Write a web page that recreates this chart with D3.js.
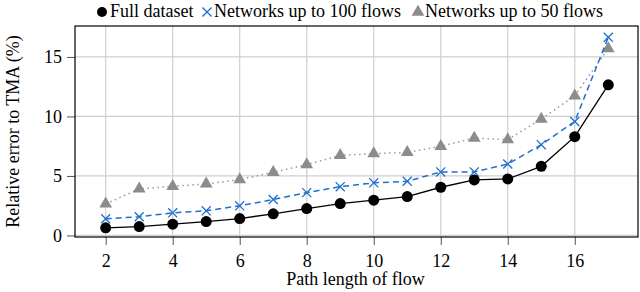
<!DOCTYPE html>
<html>
<head>
<meta charset="utf-8">
<script src="https://cdn.jsdelivr.net/npm/d3@7"></script>
</head>
<body style="margin:0;background:#fff">
<div id="chart"></div>
<script>
var pathLength = [2, 3, 4, 5, 6, 7, 8, 9, 10, 11, 12, 13, 14, 15, 16, 17];
var fullDataset = [0.64, 0.75, 0.95, 1.17, 1.42, 1.82, 2.26, 2.68, 2.96, 3.27, 4.05, 4.67, 4.75, 5.81, 8.3, 12.66];
var upTo100 = [1.4, 1.57, 1.9, 2.07, 2.49, 3.02, 3.6, 4.1, 4.42, 4.55, 5.34, 5.34, 6.0, 7.63, 9.58, 16.65];
var upTo50 = [2.65, 3.91, 4.13, 4.33, 4.69, 5.31, 5.95, 6.73, 6.87, 6.98, 7.49, 8.19, 8.05, 9.78, 11.74, 15.7];
var xTicks = [2, 4, 6, 8, 10, 12, 14, 16];
var yTicks = [0, 5, 10, 15];
var seriesNames = ["Full dataset", "Networks up to 100 flows", "Networks up to 50 flows"];

var FONT = "serif";
var width = 640, height = 292;
var margin = {top: 26, right: 2, bottom: 55, left: 75};
var w = width - margin.left - margin.right,
    h = height - margin.top - margin.bottom;

var svg = d3.select("#chart").append("svg")
  .attr("width", width)
  .attr("height", height);

var g = svg.append("g").attr("transform", "translate(" + margin.left + "," + margin.top + ")");

var x = d3.scaleLinear().domain([1.084, 17.887]).range([0, w]);
var y = d3.scaleLinear().domain([-0.13, 17.6]).range([h, 0]);

// grid
g.append("g").selectAll("line").data(xTicks).enter().append("line")
  .attr("x1", function(d){ return x(d); }).attr("x2", function(d){ return x(d); })
  .attr("y1", 0).attr("y2", h)
  .style("stroke", "#cfcfcf").style("stroke-width", 1.2);
g.append("g").selectAll("line").data(yTicks).enter().append("line")
  .attr("y1", function(d){ return y(d); }).attr("y2", function(d){ return y(d); })
  .attr("x1", 0).attr("x2", w)
  .style("stroke", "#cfcfcf").style("stroke-width", 1.2);

// axes
var xAxis = g.append("g").attr("transform", "translate(0," + h + ")")
  .call(d3.axisBottom(x).tickValues(xTicks).tickSize(8).tickPadding(9));
var yAxis = g.append("g")
  .call(d3.axisLeft(y).tickValues(yTicks).tickSize(8).tickPadding(5));
[xAxis, yAxis].forEach(function(a){
  a.select(".domain").remove();
  a.selectAll("line").style("stroke", "#555");
  a.selectAll("text").style("fill", "#000");
});

g.append("rect")
  .attr("width", w).attr("height", h)
  .style("fill", "none").style("stroke", "#000").style("stroke-width", 1.2);

var line = d3.line()
  .x(function(d, i){ return x(pathLength[i]); })
  .y(function(d){ return y(d); });

// gray dotted (50 flows)
g.append("path").datum(upTo50).attr("d", line)
  .style("fill", "none").style("stroke", "#999").style("stroke-width", 1.5)
  .style("stroke-dasharray", "1.5,3.5");
var tri = d3.symbol().type(d3.symbolTriangle).size(70);
g.selectAll(".tri").data(upTo50).enter().append("path")
  .attr("class", "tri")
  .attr("d", tri)
  .attr("transform", function(d, i){ return "translate(" + x(pathLength[i]) + "," + y(d) + ")"; })
  .style("fill", "#8c8c8c");

// blue dashed (100 flows)
g.append("path").datum(upTo100).attr("d", line)
  .style("fill", "none").style("stroke", "#1f6fcf").style("stroke-width", 1.5)
  .style("stroke-dasharray", "6,4");
var cross = d3.symbol().type(d3.symbolTimes).size(55);
g.selectAll(".cross").data(upTo100).enter().append("path")
  .attr("class", "cross")
  .attr("d", cross)
  .attr("transform", function(d, i){ return "translate(" + x(pathLength[i]) + "," + y(d) + ")"; })
  .style("fill", "none").style("stroke", "#1f6fcf").style("stroke-width", 1.3);

// black solid (full)
g.append("path").datum(fullDataset).attr("d", line)
  .style("fill", "none").style("stroke", "#000").style("stroke-width", 1.3);
g.selectAll(".dot").data(fullDataset).enter().append("circle")
  .attr("class", "dot")
  .attr("cx", function(d, i){ return x(pathLength[i]); })
  .attr("cy", function(d){ return y(d); })
  .attr("r", 5.5)
  .style("fill", "#000");

// axis labels
svg.append("text")
  .attr("x", margin.left + w / 2 - 1).attr("y", 285)
  .attr("text-anchor", "middle")
  .text("Path length of flow");
svg.append("text")
  .attr("transform", "translate(19," + (margin.top + h / 2) + ") rotate(-90)")
  .attr("text-anchor", "middle")
  .text("Relative error to TMA (%)");

// legend
var legend = svg.append("g").attr("transform", "translate(0,17)");
legend.append("circle").attr("cx", 102).attr("cy", -5).attr("r", 5).style("fill", "#000");
legend.append("text").attr("x", 110).attr("y", 0).text(seriesNames[0]);
legend.append("path").attr("d", cross).attr("transform", "translate(207,-5)")
  .style("fill", "none").style("stroke", "#1f6fcf").style("stroke-width", 1.3);
legend.append("text").attr("x", 214).attr("y", 0).text(seriesNames[1]);
legend.append("path").attr("d", tri).attr("transform", "translate(418,-5)").style("fill", "#8c8c8c");
legend.append("text").attr("x", 425).attr("y", 0).text(seriesNames[2]);

// every text node gets the serif face directly
svg.selectAll("text").attr("font-family", FONT).attr("font-size", 18);
</script>
</body>
</html>
